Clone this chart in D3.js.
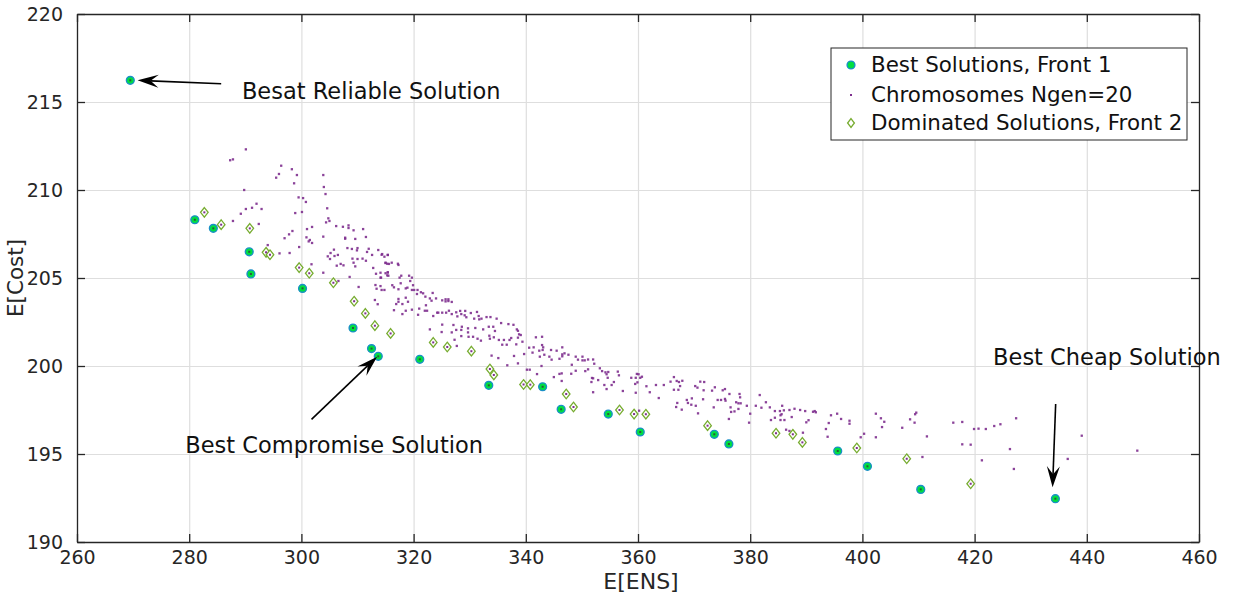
<!DOCTYPE html>
<html>
<head>
<meta charset="utf-8">
<script src="https://cdn.jsdelivr.net/npm/d3@7"></script>
<style>
  html, body { margin: 0; padding: 0; background: #fff; }
  svg { display: block; }
  text { font-family: "DejaVu Sans", Verdana, sans-serif; fill: #262626; }
</style>
</head>
<body>
<svg id="chart" width="1233" height="596"></svg>
<script>
// ---------- data ----------
const xTicks = [260, 280, 300, 320, 340, 360, 380, 400, 420, 440, 460];
const yTicks = [190, 195, 200, 205, 210, 215, 220];

const legendLabels = ["Best Solutions, Front 1", "Chromosomes Ngen=20", "Dominated Solutions, Front 2"];

// Front 1 – best (non-dominated) solutions [E[ENS], E[Cost]]
const front1 = [
  [269.5, 216.23], [281.0, 208.31], [284.3, 207.82], [290.7, 206.49], [291.0, 205.23],
  [300.2, 204.41], [309.2, 202.16], [312.5, 200.99], [313.7, 200.55], [321.1, 200.38],
  [333.4, 198.90], [343.0, 198.82], [346.3, 197.54], [354.7, 197.27], [360.4, 196.25],
  [373.6, 196.12], [376.2, 195.57], [395.6, 195.17], [400.9, 194.30], [410.4, 192.99],
  [434.4, 192.46]
];

// Front 2 – dominated solutions
const front2 = [
  [282.7, 208.73], [285.7, 208.03], [290.8, 207.82], [293.7, 206.46], [294.4, 206.32],
  [299.6, 205.59], [301.4, 205.27], [305.7, 204.73], [309.4, 203.68], [311.4, 202.99],
  [313.1, 202.29], [315.9, 201.85], [323.5, 201.34], [326.0, 201.08], [330.3, 200.84],
  [333.6, 199.83], [334.3, 199.49], [339.6, 198.95], [340.8, 198.94], [347.2, 198.41],
  [348.5, 197.67], [356.7, 197.50], [359.3, 197.27], [361.4, 197.26], [372.4, 196.61],
  [384.6, 196.18], [387.6, 196.12], [389.3, 195.66], [399.0, 195.34], [407.9, 194.73],
  [419.3, 193.31]
];

// Chromosomes of generation 20
const chromosomes = [
  [290.1,212.31],[287.3,211.69],[287.8,211.74],[296.4,211.38],[298.3,211.18],[296.0,210.91],
  [299.2,210.85],[295.5,210.70],[303.9,210.85],[298.7,210.38],[304.0,210.17],[289.8,210.00],
  [304.3,209.77],[299.5,209.58],[300.3,209.54],[300.8,209.32],[292.0,209.22],[291.2,208.99],
  [290.1,208.92],[292.9,208.92],[304.6,208.96],[289.2,208.65],[298.9,208.69],[300.1,208.75],
  [304.8,208.39],[305.0,208.24],[304.4,208.16],[287.8,208.24],[292.4,208.07],[306.2,207.95],
  [307.4,207.91],[308.4,207.99],[308.4,207.84],[301.9,207.90],[301.0,207.78],[311.0,207.78],
  [309.3,207.71],[298.4,207.67],[297.8,207.48],[297.0,207.26],[303.9,207.35],[307.8,207.29],
  [307.8,207.23],[309.6,207.22],[311.5,207.33],[300.9,207.31],[301.5,207.16],[301.3,207.08],
  [301.9,206.99],[294.0,206.87],[299.6,206.76],[308.2,206.70],[309.0,206.65],[310.0,206.70],
  [309.9,206.57],[312.0,206.66],[313.7,206.59],[305.8,206.61],[305.2,206.42],[296.1,206.40],
  [297.9,206.42],[304.7,206.23],[305.9,206.25],[306.5,206.31],[311.7,206.48],[314.3,206.32],
  [312.6,206.31],[315.4,206.31],[305.1,206.08],[309.1,206.10],[310.0,206.08],[310.9,206.10],
  [311.5,205.98],[309.3,205.87],[306.3,205.70],[307.0,205.80],[307.5,205.72],[309.6,205.66],
  [315.0,205.87],[315.3,205.81],[301.8,205.78],[312.8,205.57],[308.6,205.06],[303.9,205.30],
  [314.1,205.30],[315.4,205.32],[315.3,205.15],[313.3,205.24],[314.2,205.02],[306.6,204.83],
  [310.2,204.49],[313.2,204.60],[314.1,204.54],[313.4,204.39],[313.1,203.75],[313.6,203.51],
  [314.4,206.36],[314.8,206.21],[315.4,206.31],[315.0,205.85],[315.6,205.80],[316.1,205.87],
  [317.2,205.81],[317.3,205.74],[315.0,205.27],[315.4,205.32],[315.5,205.13],[314.1,205.02],
  [317.8,205.13],[317.5,205.02],[319.2,205.13],[319.7,205.02],[319.4,204.83],[317.7,204.70],
  [316.2,204.59],[316.5,204.47],[319.9,204.59],[314.3,204.32],[314.8,204.32],[317.3,204.36],
  [318.6,204.41],[318.9,204.45],[319.7,204.32],[320.1,204.32],[320.7,204.32],[321.3,204.19],
  [321.7,204.13],[323.4,204.15],[320.6,204.09],[322.1,203.94],[322.9,203.84],[323.2,203.71],
  [324.0,203.84],[325.1,203.73],[325.7,203.79],[326.2,203.79],[326.2,203.69],[325.7,203.67],
  [326.8,203.64],[318.6,203.88],[319.0,203.65],[317.3,203.81],[317.3,203.65],[318.0,203.52],
  [316.9,203.52],[322.2,203.45],[321.0,203.26],[316.5,203.17],[318.6,203.14],[319.7,203.20],
  [322.0,203.14],[322.4,203.14],[318.0,202.95],[320.8,202.91],[323.5,202.84],[324.4,203.03],
  [324.2,203.03],[325.1,203.03],[325.8,203.03],[326.3,203.14],[327.6,203.05],[328.3,203.13],
  [329.2,203.13],[328.5,202.95],[329.1,202.88],[326.8,202.95],[327.8,202.82],[329.4,202.77],
  [330.2,203.01],[331.3,203.07],[331.6,202.84],[330.8,202.69],[332.1,202.69],[331.7,202.65],
  [333.0,202.78],[333.7,202.78],[334.8,202.69],[325.1,202.35],[327.1,202.33],[328.6,202.23],
  [329.7,202.14],[327.6,202.05],[328.5,202.05],[331.0,202.16],[333.4,202.23],[334.2,202.23],
  [335.6,202.44],[336.9,202.38],[337.8,202.34],[332.4,202.08],[334.5,201.99],[322.9,202.08],
  [325.0,201.93],[326.8,201.91],[329.7,201.91],[329.8,201.66],[330.6,201.66],[331.4,201.55],
  [332.0,201.44],[333.5,201.72],[333.6,201.55],[334.3,201.63],[335.2,201.48],[336.1,201.48],
  [335.8,201.21],[336.6,201.21],[337.1,201.48],[337.4,201.59],[338.3,201.23],[338.8,201.80],
  [338.6,201.61],[339.1,201.76],[339.4,201.38],[338.4,202.08],[338.6,202.00],[327.3,201.49],
  [328.5,201.70],[327.7,201.14],[340.6,201.04],[341.4,201.06],[341.8,201.63],[342.9,201.66],
  [342.9,201.19],[343.1,201.06],[342.4,200.87],[343.0,200.91],[341.2,200.76],[339.7,200.68],
  [343.3,200.64],[342.5,200.53],[333.9,200.59],[335.1,200.45],[337.9,200.57],[336.7,200.04],
  [338.6,200.15],[340.2,199.79],[340.7,199.79],[342.0,199.54],
  [346.5,201.06],[344.5,200.91],[345.5,200.87],[346.5,200.66],[346.9,200.72],[347.6,200.64],
  [346.5,200.55],[346.0,200.41],[344.6,200.36],[344.2,200.53],[348.9,200.53],[350.1,200.53],
  [349.3,200.36],[350.1,200.32],[350.5,200.32],[351.1,200.37],[352.0,200.37],[352.2,200.13],
  [342.8,200.00],[348.2,200.07],[353.2,199.87],[353.6,199.71],[351.1,199.81],[350.6,199.71],
  [348.9,199.73],[354.2,199.64],[354.7,199.66],[354.4,199.53],[356.4,199.68],[356.6,199.47],
  [346.0,199.55],[346.4,199.58],[348.1,199.56],[345.0,199.37],[354.6,199.33],[351.8,199.32],
  [352.0,199.30],[352.9,199.20],[346.4,199.15],[351.7,199.09],[355.7,199.09],[359.8,199.55],
  [360.1,199.53],[358.8,199.33],[359.6,199.33],[360.4,199.33],[360.7,199.39],[359.9,199.07],
  [359.5,198.98],[354.0,198.92],[355.3,198.92],[354.4,198.69],[357.3,198.58],[352.0,198.51],
  [359.6,198.48],[361.5,198.85],[363.2,198.92],[364.6,198.92],[362.1,198.51],[363.7,198.18],
  [366.4,199.37],[365.8,199.11],[366.9,199.15],[367.3,199.09],[367.9,199.16],[367.5,198.86],
  [366.4,198.65],[367.2,198.65],[370.2,198.86],[370.6,198.77],[371.1,199.11],[371.8,199.09],
  [371.7,198.62],[373.7,198.79],[373.2,198.60],[375.1,198.62],[375.5,198.69],[376.3,198.41],
  [378.1,198.41],[378.2,198.22],[381.7,198.35],[367.0,197.90],[366.8,197.67],[368.7,198.07],
  [369.6,198.16],[368.9,197.90],[369.5,197.80],[370.3,197.74],[367.8,197.52],[371.6,198.11],
  [374.2,198.07],[374.8,198.07],[375.5,198.13],[375.6,198.03],[373.5,197.65],[376.5,197.65],
  [377.5,197.94],[377.9,197.88],[378.3,197.88],[379.4,197.74],[381.0,197.74],[377.2,197.42],
  [376.6,197.39],[377.9,197.56],[380.0,197.29],[370.7,197.31],[360.2,197.46],[376.2,196.99],
  [382.8,197.94],[382.0,197.63],[383.5,197.65],[384.4,197.44],[385.3,197.44],[385.7,197.74],
  [386.0,197.48],[387.0,197.50],[387.9,197.57],[388.9,197.50],[389.8,197.44],[391.2,197.40],
  [391.5,197.44],[391.7,197.37],[379.8,196.78],[384.4,197.06],[385.4,197.20],[385.6,197.26],
  [387.4,197.10],[383.7,196.93],[385.4,196.93],[386.1,196.93],[390.4,196.92],[390.0,196.80],
  [386.4,196.38],[387.0,196.31],[389.4,196.21],[394.4,197.20],[395.5,197.29],[396.2,196.99],
  [394.0,196.76],[397.7,196.89],[397.7,196.72],[393.5,196.42],[393.8,195.98],[402.4,197.29],
  [403.3,197.03],[403.9,196.83],[403.5,196.53],[400.3,196.15],[399.7,195.95],[402.4,195.95],
  [407.1,196.49],[408.5,196.97],[409.4,197.26],[409.6,197.35],[409.3,196.78],[411.5,196.00],
  [410.7,194.83],[416.2,196.78],[417.8,196.82],[419.9,196.42],[420.7,196.44],[417.8,195.55],
  [419.3,195.53],[422.0,196.42],[423.5,196.59],[424.6,196.69],[427.4,197.03],[421.3,194.64],
  [426.3,195.28],[427.0,194.15],[439.1,196.04],[436.6,194.72],[449.0,195.19]
];

// Annotations: text anchor and arrow (tail -> tip) in data units
const annotations = [
  { text: "Besat Reliable Solution",  tx: 289.4, ty: 215.17, from: [285.7, 216.04], to: [270.8, 216.23] },
  { text: "Best Compromise Solution", tx: 279.3, ty: 195.06, from: [301.8, 196.97], to: [313.5, 200.53] },
  { text: "Best Cheap Solution",      tx: 423.3, ty: 200.06, from: [434.45, 197.84], to: [433.9, 193.11] }
];

// ---------- layout ----------
const W = 1233, H = 596;
const margin = { left: 77, right: 34, top: 14, bottom: 54 };
const svg = d3.select("#chart");
const x = d3.scaleLinear().domain([260, 460]).range([margin.left, W - margin.right]);
const y = d3.scaleLinear().domain([190, 220]).range([H - margin.bottom, margin.top]);
const plotW = W - margin.left - margin.right;
const plotH = H - margin.top - margin.bottom;

const axisColor = "#262626";
const gridColor = "#dedede";
const purple = "#7e2f8e";
const diamondColor = "#77ac30";

// grid
svg.append("g").attr("transform", `translate(0,${margin.top})`)
  .call(d3.axisBottom(x).tickValues(xTicks).tickSize(plotH).tickFormat(""))
  .call(g => g.select(".domain").remove())
  .call(g => g.selectAll("line").attr("stroke", gridColor).attr("stroke-width", 1.2));
svg.append("g").attr("transform", `translate(${margin.left},0)`)
  .call(d3.axisRight(y).tickValues(yTicks).tickSize(plotW).tickFormat(""))
  .call(g => g.select(".domain").remove())
  .call(g => g.selectAll("line").attr("stroke", gridColor).attr("stroke-width", 1.2));

const plot = svg.append("g");

// chromosomes
plot.append("g").selectAll("rect.chrom").data(chromosomes).join("rect")
  .attr("x", d => x(d[0]) - 1.15).attr("y", d => y(d[1]) - 1.15)
  .attr("width", 2.3).attr("height", 2.3).attr("fill", purple).attr("opacity", 0.9);

// front 2 diamonds
const dia = (cx, cy, w, h) => `M${cx},${cy - h}L${cx + w},${cy}L${cx},${cy + h}L${cx - w},${cy}Z`;
const f2 = plot.append("g");
f2.selectAll("path").data(front2).join("path")
  .attr("d", d => dia(x(d[0]), y(d[1]), 3.8, 4.8))
  .attr("fill", "#ffffff").attr("stroke", diamondColor).attr("stroke-width", 1.3);
f2.selectAll("rect").data(front2).join("rect")
  .attr("x", d => x(d[0]) - 1).attr("y", d => y(d[1]) - 1)
  .attr("width", 2).attr("height", 2).attr("fill", purple);

// front 1 circles
const f1 = plot.append("g");
f1.selectAll("circle").data(front1).join("circle")
  .attr("cx", d => x(d[0])).attr("cy", d => y(d[1])).attr("r", 3.9)
  .attr("fill", "#00e040").attr("stroke", "#1a8fc7").attr("stroke-width", 1.4);
f1.selectAll("rect").data(front1).join("rect")
  .attr("x", d => x(d[0]) - 1).attr("y", d => y(d[1]) - 1)
  .attr("width", 2).attr("height", 2).attr("fill", "#2a5a3a");

// axes box with inward ticks
const fmt = d3.format("d");
const styleAxis = g => {
  g.select(".domain").attr("stroke", axisColor).attr("stroke-width", 1.3);
  g.selectAll(".tick line").attr("stroke", axisColor).attr("stroke-width", 1.3);
  g.selectAll("text").attr("fill", axisColor).style("font-size", "19px")
    .style("font-family", '"DejaVu Sans", Verdana, sans-serif');
};
svg.append("g").attr("transform", `translate(0,${H - margin.bottom})`)
  .call(d3.axisBottom(x).tickValues(xTicks).tickSizeInner(-8).tickSizeOuter(0).tickPadding(9).tickFormat(fmt))
  .call(styleAxis);
svg.append("g").attr("transform", `translate(0,${margin.top})`)
  .call(d3.axisTop(x).tickValues(xTicks).tickSizeInner(-8).tickSizeOuter(0).tickFormat(""))
  .call(styleAxis);
svg.append("g").attr("transform", `translate(${margin.left},0)`)
  .call(d3.axisLeft(y).tickValues(yTicks).tickSizeInner(-8).tickSizeOuter(0).tickPadding(14).tickFormat(fmt))
  .call(styleAxis);
svg.append("g").attr("transform", `translate(${W - margin.right},0)`)
  .call(d3.axisRight(y).tickValues(yTicks).tickSizeInner(-8).tickSizeOuter(0).tickFormat(""))
  .call(styleAxis);

// axis titles
svg.append("text").attr("x", 641).attr("y", 589)
  .attr("text-anchor", "middle").style("font-size", "22px").text("E[ENS]");
svg.append("text").attr("transform", `translate(23,${(margin.top + H - margin.bottom) / 2}) rotate(-90)`)
  .attr("text-anchor", "middle").style("font-size", "21.5px").text("E[Cost]");

// annotations
function arrow(g, x1, y1, x2, y2) {
  const dx = x2 - x1, dy = y2 - y1, L = Math.hypot(dx, dy);
  const ux = dx / L, uy = dy / L, px = -uy, py = ux;
  const hl = 21, hw = 6.5, notch = 13;
  g.append("line").attr("x1", x1).attr("y1", y1)
    .attr("x2", x2 - ux * notch).attr("y2", y2 - uy * notch)
    .attr("stroke", "#000").attr("stroke-width", 1.6);
  const bx = x2 - ux * hl, by = y2 - uy * hl;
  const nx = x2 - ux * notch, ny = y2 - uy * notch;
  g.append("path")
    .attr("d", `M${x2},${y2}L${bx + px * hw},${by + py * hw}L${nx},${ny}L${bx - px * hw},${by - py * hw}Z`)
    .attr("fill", "#000");
}
const ann = svg.append("g");
annotations.forEach(a => {
  ann.append("text").attr("x", x(a.tx)).attr("y", y(a.ty))
    .style("font-size", "22.5px").style("fill", "#111").text(a.text);
  arrow(ann, x(a.from[0]), y(a.from[1]), x(a.to[0]), y(a.to[1]));
});

// legend
const lg = svg.append("g").attr("transform", "translate(831,48)");
lg.append("rect").attr("width", 356).attr("height", 92)
  .attr("fill", "#fff").attr("stroke", "#262626").attr("stroke-width", 1);
const rowsY = [17, 47, 75];
legendLabels.forEach((t, i) => {
  lg.append("text").attr("x", 40).attr("y", rowsY[i]).attr("dy", "0.35em")
    .style("font-size", "21.4px").style("fill", "#111").text(t);
});
lg.append("circle").attr("cx", 20).attr("cy", rowsY[0]).attr("r", 3.9)
  .attr("fill", "#00e040").attr("stroke", "#1a8fc7").attr("stroke-width", 1.4);
lg.append("rect").attr("x", 19).attr("y", rowsY[1] - 1).attr("width", 2).attr("height", 2).attr("fill", purple);
lg.append("path").attr("d", dia(20, rowsY[2], 3.4, 4.4))
  .attr("fill", "#fff").attr("stroke", diamondColor).attr("stroke-width", 1.3);
</script>
</body>
</html>
